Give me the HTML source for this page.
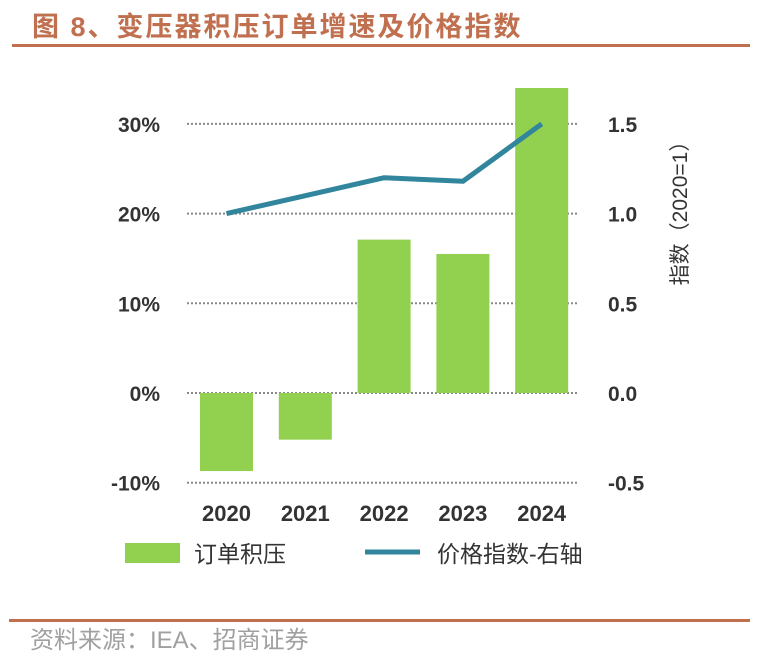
<!DOCTYPE html>
<html><head><meta charset="utf-8"><style>
body{margin:0;width:760px;height:660px;background:#fff;overflow:hidden;font-family:"Liberation Sans","Noto Sans CJK SC",sans-serif}
</style></head><body>
<svg width="760" height="660" id="svg" xmlns="http://www.w3.org/2000/svg">
<text x="32" y="36" font-size="27" letter-spacing="2" font-weight="bold" fill="#c0704f" font-family="Liberation Sans, Noto Sans CJK SC, sans-serif">图 8、变压器积压订单增速及价格指数</text>
<rect x="12" y="44" width="738" height="3" fill="#c0704f"/>
<rect x="9" y="619" width="741" height="3" fill="#c0704f"/>
<text x="30" y="648" font-size="24" fill="#a0a0a0" font-family="Liberation Sans, Noto Sans CJK SC, sans-serif">资料来源：IEA、招商证券</text>
<g id="plot"></g>
</svg>
<script>
const categories=["2020","2021","2022","2023","2024"];
const backlogGrowth=[-8.7,-5.2,17.1,15.5,34.0];
const priceIndex=[1.0,1.1,1.2,1.18,1.5];
const leftTicks=[30,20,10,0,-10];
const leftLabels=["30%","20%","10%","0%","-10%"];
const rightTicks=[1.5,1.0,0.5,0.0,-0.5];
const rightLabels=["1.5","1.0","0.5","0.0","-0.5"];
const NS="http://www.w3.org/2000/svg";
const g=document.getElementById("plot");
const yL=v=>393-v*8.97;
const yR=v=>393-v*179.4;
const xC=i=>226.5+i*78.8;
function mk(t,a){const e=document.createElementNS(NS,t);for(const k in a)e.setAttribute(k,a[k]);g.appendChild(e);return e;}
leftTicks.forEach((t,i)=>{
 const y=yL(t);
 const l=mk("line",{x1:187,x2:578,y1:y,y2:y,stroke:"#888","stroke-width":2,"stroke-dasharray":"2,2"});
 
 
 const tx=mk("text",{x:160,y:y+8,"text-anchor":"end","font-size":21,"font-weight":"bold",fill:"#333"});
 tx.textContent=leftLabels[i];
 
 
});
rightTicks.forEach((t,i)=>{
 const tx=mk("text",{x:608,y:yR(t)+8,"font-size":21,"font-weight":"bold",fill:"#333"});
 tx.textContent=rightLabels[i];
 
 
});
categories.forEach((c,i)=>{
 const v=backlogGrowth[i];
 const y0=yL(0),y1=yL(v);
 const r=mk("rect",{x:xC(i)-26.5,y:Math.min(y0,y1),width:53,height:Math.abs(y1-y0),fill:"#92d050"});
 
 
 const tx=mk("text",{x:xC(i),y:521,"text-anchor":"middle","font-size":22,"font-weight":"bold",fill:"#333"});
 tx.textContent=c;
 
 
});
const p=mk("polyline",{points:priceIndex.map((v,i)=>xC(i)+","+yR(v)).join(" "),fill:"none",stroke:"#31859c","stroke-width":5,"stroke-linejoin":"round"});


const yt=mk("text",{transform:"translate(687,208) rotate(-90)","text-anchor":"middle","font-size":21,fill:"#333","font-family":"Liberation Sans, Noto Sans CJK SC, sans-serif"});
yt.textContent="指数（2020=1）";


const lg1=mk("rect",{x:125,y:543,width:55,height:20,fill:"#92d050"});


const lt1=mk("text",{x:194,y:562,"font-size":23,fill:"#333","font-family":"Liberation Sans, Noto Sans CJK SC, sans-serif"});
lt1.textContent="订单积压";


const lg2=mk("line",{x1:365,x2:420,y1:552,y2:552,stroke:"#31859c","stroke-width":5});


const lt2=mk("text",{x:437,y:562,"font-size":23,fill:"#333","font-family":"Liberation Sans, Noto Sans CJK SC, sans-serif"});
lt2.textContent="价格指数-右轴";


</script>
</body></html>
